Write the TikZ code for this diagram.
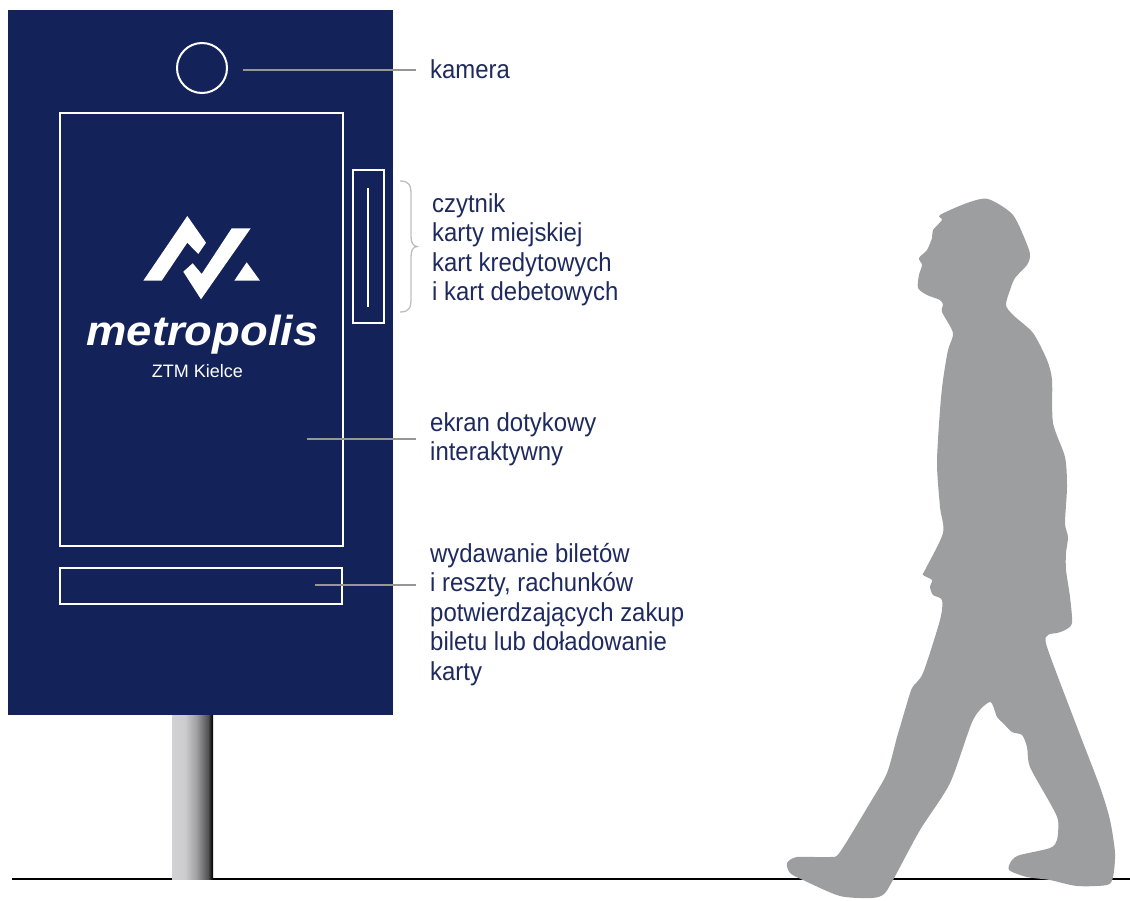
\documentclass[tikz,border=0pt]{standalone}
\usepackage{fontspec}
\setmainfont{Liberation Sans}
\newfontfamily\labelfont[FakeStretch=0.92]{Liberation Sans}
\newfontfamily\logofont[FakeStretch=1.08]{Liberation Sans}
\usetikzlibrary{positioning,calc}

\definecolor{kioskblue}{RGB}{19,35,89}
\definecolor{labelblue}{RGB}{30,42,94}
\definecolor{leadergray}{RGB}{150,150,150}
\definecolor{bracegray}{RGB}{190,190,190}
\definecolor{walkergray}{RGB}{157,158,160}

% metal look of the post: light on the left, black on the right
\pgfdeclarehorizontalshading{postshade}{100bp}{
    rgb(0bp)=(0.82,0.82,0.83); rgb(25bp)=(0.82,0.82,0.83);
    rgb(41bp)=(0.80,0.80,0.81); rgb(55bp)=(0.62,0.62,0.63);
    rgb(69bp)=(0.32,0.32,0.33); rgb(73bp)=(0.08,0.08,0.08);
    rgb(75bp)=(0,0,0); rgb(100bp)=(0,0,0)}

\tikzset{
    panel/.style={draw=white, line width=2pt, inner sep=0pt},
    leader/.style={draw=leadergray, line width=1.3pt, shorten >=14pt},
    % base of a multi-line callout sits on its last line
    callout/.style={anchor=base west, inner sep=0pt, align=left, text=labelblue,
        font=\labelfont\fontsize{26}{29.5}\selectfont},
}

\begin{document}
\begin{tikzpicture}[x=1pt, y=-1pt]
    \useasboundingbox (0,0) rectangle (1130,900);

    % ground and pole
    \draw[line width=2pt] (12,879) -- (1130,879);
    \shade[shading=postshade] (172,714) rectangle (213,879);

    % kiosk body
    \fill[kioskblue] (8,10) rectangle (393,715);
    \node[panel, circle, minimum size=50pt] (cam) at (202,68) {};
    \node[panel, minimum width=283pt, minimum height=433pt] (screen) at (201.5,329.5) {};
    \node[panel, minimum width=282pt, minimum height=36pt] (slot) at (201,586) {};
    \node[panel, minimum width=31pt, minimum height=153pt] (rdr) at (368,246.5) {};
    \draw[white, line width=1.5pt] ($(rdr.north)+(0,19)$) -- ($(rdr.south)+(0,-17)$);

    % logo
    \fill[white] (143.3,280.7) -- (187.3,216) -- (206,242.7) -- (198.3,254)
        -- (187.3,242.7) -- (161.7,280.7) -- cycle;
    \fill[white] (183.3,271.7) -- (192.7,263.3) -- (201.7,274) -- (231.7,228.3)
        -- (250.7,228.3) -- (201,299.3) -- cycle;
    \fill[white] (234.3,280.7) -- (246.7,262.3) -- (260,280.7) -- cycle;
    \node[anchor=base, inner sep=0pt, text=white, font=\logofont\bfseries\itshape\fontsize{42}{42}\selectfont]
        (brand) at (202.5,345) {metropolis};
    \node[anchor=base, inner sep=0pt, text=white, font=\fontsize{18}{18}\selectfont]
        (ztm) at (197.5,377) {ZTM Kielce};

    % callouts
    \node[callout] (lblcam) at (430,78) {kamera};
    \node[callout] (lblrdr) at (432,300.5) {czytnik\\karty miejskiej\\kart kredytowych\\i kart debetowych};
    \node[callout] (lblscr) at (430,460.5) {ekran dotykowy\\interaktywny};
    \node[callout] (lblslot) at (430,680) {wydawanie biletów\\i reszty, rachunków\\potwierdzających zakup\\biletu lub doładowanie\\karty};

    \coordinate (camtip) at ($(cam.east)+(15,2)$);
    \coordinate (scrtip) at (307,439);
    \coordinate (slottip) at (315,585);
    \draw[leader] (camtip) -- (camtip -| lblcam.west);
    \draw[leader] (scrtip) -- (scrtip -| lblscr.west);
    \draw[leader] (slottip) -- (slottip -| lblslot.west);

    % brace next to the card reader
    \draw[bracegray, line width=1.3pt] (400,181) .. controls (410,181) and (411,186) .. (411,195)
        -- (411,236) .. controls (411,243) and (413,246) .. (417,246.5)
        .. controls (413,247) and (411,250) .. (411,257)
        -- (411,298) .. controls (411,307) and (410,312) .. (400,312);

    % walking figure
    \fill[walkergray] plot[smooth cycle, tension=0.45] coordinates {
        (988,199) (967,203) (940,215) (942,220) (933,230) (932,238) (927,250)
        (919,258) (922,265) (919,275) (918,288) (927,295) (940,300) (943,305)
        (942,312) (953,333) (948,350) (943,380) (940,410) (937,463) (940,507)
        (943,533) (925,570) (923,575) (932,580) (930,587) (933,595) (942,600)
        (940,620) (923,673) (912,688) (905,710) (900,727) (897,737) (887,773)
        (870,803) (840,852) (830,857) (797,857) (787,863) (790,873) (803,880)
        (840,896) (872,898) (884,894) (893,880) (920,830) (950,783) (973,720)
        (990,702) (997,717) (1003,723) (1012,732) (1022,735) (1027,747)
        (1030,767) (1050,803) (1058,820) (1057,840) (1050,848) (1020,855)
        (1012,860) (1009,870) (1027,877) (1050,880) (1077,886) (1107,885)
        (1113,877) (1115,853) (1110,820) (1100,787) (1077,727) (1047,647)
        (1048,635) (1057,633) (1065,630) (1072,623) (1070,597) (1066,570)
        (1066,553) (1068,537) (1065,523) (1067,487) (1065,457) (1053,423)
        (1052,380) (1047,360) (1033,333) (1013,315) (1006,305) (1010,290)
        (1015,278) (1027,265) (1030,257) (1028,247) (1013,215)
    };
\end{tikzpicture}
\end{document}
